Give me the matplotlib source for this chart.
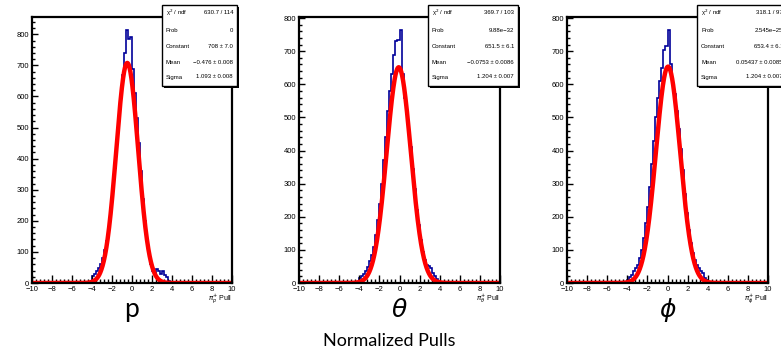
import numpy as np
import matplotlib
matplotlib.use("Agg")
import matplotlib.pyplot as plt
from matplotlib.patches import Rectangle
from matplotlib.ticker import MultipleLocator

# ---------------- data ----------------
bin_width = 0.2
first_edge = -4.4

counts_p = [0, 2, 22, 28, 38, 48, 62, 80, 105, 135, 180, 240, 300, 370, 450, 530,
            600, 670, 740, 815, 785, 790, 690, 610, 530, 450, 360, 270, 200, 140,
            95, 60, 40, 30, 45, 40, 30, 38, 25, 20, 5, 0, 0, 0]
counts_theta = [0, 3, 15, 22, 28, 35, 48, 65, 85, 110, 145, 190, 240, 300, 370, 440,
                520, 580, 630, 690, 730, 735, 765, 630, 560, 510, 460, 410, 345, 285,
                220, 175, 130, 95, 70, 55, 50, 45, 30, 20, 12, 5, 0, 0]
counts_phi = [0, 0, 10, 18, 25, 35, 45, 55, 75, 100, 135, 180, 230, 290, 360, 430,
              500, 560, 610, 650, 705, 715, 765, 660, 600, 570, 520, 465, 405, 340,
              270, 210, 160, 120, 90, 70, 55, 45, 35, 30, 15, 8, 0, 0]

fit_constant = [708.0, 651.5, 653.4]
fit_mean = [-0.476, -0.0753, 0.05437]
fit_sigma = [1.093, 1.204, 1.204]

stat_labels = ["\u03c7$^{2}$ / ndf", "Prob", "Constant", "Mean", "Sigma"]
stat_values = [
    ["630.7 / 114", "0", "708 \u00b1 7.0", "\u22120.476 \u00b1 0.008", "1.093 \u00b1 0.008"],
    ["369.7 / 103", "9.88e\u221232", "651.5 \u00b1 6.1", "\u22120.0753 \u00b1 0.0086", "1.204 \u00b1 0.007"],
    ["318.1 / 97", "2.545e\u221225", "653.4 \u00b1 6.1", "0.05437 \u00b1 0.0085", "1.204 \u00b1 0.007"],
]
axis_titles = [r"$\pi^{+}_{p}$ Pull", r"$\pi^{+}_{\theta}$ Pull", r"$\pi^{+}_{\phi}$ Pull"]
panel_names = ["p", r"$\theta$", r"$\phi$"]
x_range = (-10, 10)

# ---------------- layout ----------------
W, H = 781, 356
fig = plt.figure(figsize=(W / 100, H / 100), dpi=100)
plt.rcParams["font.family"] = ["Liberation Sans", "DejaVu Sans"]

axes_px = [(32, 232), (299, 500), (567, 768)]   # left/right pixel of frames
top_px, bot_px = 17, 283
box_px = [(162, 237), (428, 518), (697, 787)]
box_top, box_bot = 5, 86

def fx(px):
    return px / W

def fy(py):
    return 1 - py / H

all_counts = [counts_p, counts_theta, counts_phi]

for i in range(3):
    l, r = axes_px[i]
    ax = fig.add_axes([fx(l), fy(bot_px), (r - l) / W, (bot_px - top_px) / H])
    counts = np.array(all_counts[i], dtype=float)
    edges = first_edge + bin_width * np.arange(len(counts) + 1)
    ax.plot([x_range[0], edges[0]], [0, 0], color="#000099", lw=1.2)
    ax.plot([edges[-1], x_range[1]], [0, 0], color="#000099", lw=1.2)
    ax.stairs(counts, edges, color="#000099", lw=1.2, baseline=0)
    xf = np.linspace(x_range[0], x_range[1], 800)
    yf = fit_constant[i] * np.exp(-0.5 * ((xf - fit_mean[i]) / fit_sigma[i]) ** 2)
    ax.plot(xf, yf, color="#ff0000", lw=3.2, solid_capstyle="butt")
    ax.set_xlim(*x_range)
    ax.set_ylim(0, counts.max() * 1.05)
    ax.xaxis.set_major_locator(MultipleLocator(2))
    ax.xaxis.set_minor_locator(MultipleLocator(0.4))
    ax.yaxis.set_major_locator(MultipleLocator(100))
    ax.yaxis.set_minor_locator(MultipleLocator(20))
    ax.tick_params(axis="x", which="major", direction="in", length=5.5, width=1.0,
                   labelsize=5.5, pad=2.5, top=False)
    ax.tick_params(axis="x", which="minor", direction="in", length=2.8, width=1.0, top=False)
    ax.tick_params(axis="y", which="major", direction="in", length=4.5, width=1.0,
                   labelsize=5.5, pad=2, right=False)
    ax.tick_params(axis="y", which="minor", direction="in", length=2.2, width=1.0, right=False)
    ax.set_xticklabels([("\u2212" + str(-int(t))) if t < 0 else str(int(t)) for t in ax.get_xticks()])
    for s in ax.spines.values():
        s.set_linewidth(1.6)
    # axis title
    fig.text(fx(r), fy(299), axis_titles[i], ha="right", va="center", fontsize=5)
    # stats box
    bl, br = box_px[i]
    bx = fx(bl); bw = (br - bl) / W
    by = fy(box_bot); bh = (box_bot - box_top) / H
    fig.patches.append(Rectangle((bx + 2 / W, by - 2 / H), bw, bh, transform=fig.transFigure,
                                 facecolor="black", edgecolor="none", zorder=5))
    fig.patches.append(Rectangle((bx, by), bw, bh, transform=fig.transFigure,
                                 facecolor="white", edgecolor="black", lw=1.0, zorder=6))
    rows = [13, 30, 47, 62, 77]
    for k in range(5):
        fig.text(fx(bl + 4), fy(rows[k]), stat_labels[k], ha="left", va="center",
                 fontsize=4.3, zorder=7)
        fig.text(fx(br - 4), fy(rows[k]), stat_values[i][k], ha="right", va="center",
                 fontsize=4.3, zorder=7)
    # panel name
    cx = (l + r) / 2
    if i == 0:
        fig.text(fx(cx), fy(309), panel_names[i], ha="center", va="center",
                 fontsize=19, family=["Lato", "DejaVu Sans"])
    else:
        fig.text(fx(cx), fy(310), panel_names[i], ha="center", va="center", fontsize=18)

fig.text(fx(389), fy(341), "Normalized Pulls", ha="center", va="center",
         fontsize=13, family=["Lato", "DejaVu Sans"])

fig.savefig("out.png", dpi=100)
